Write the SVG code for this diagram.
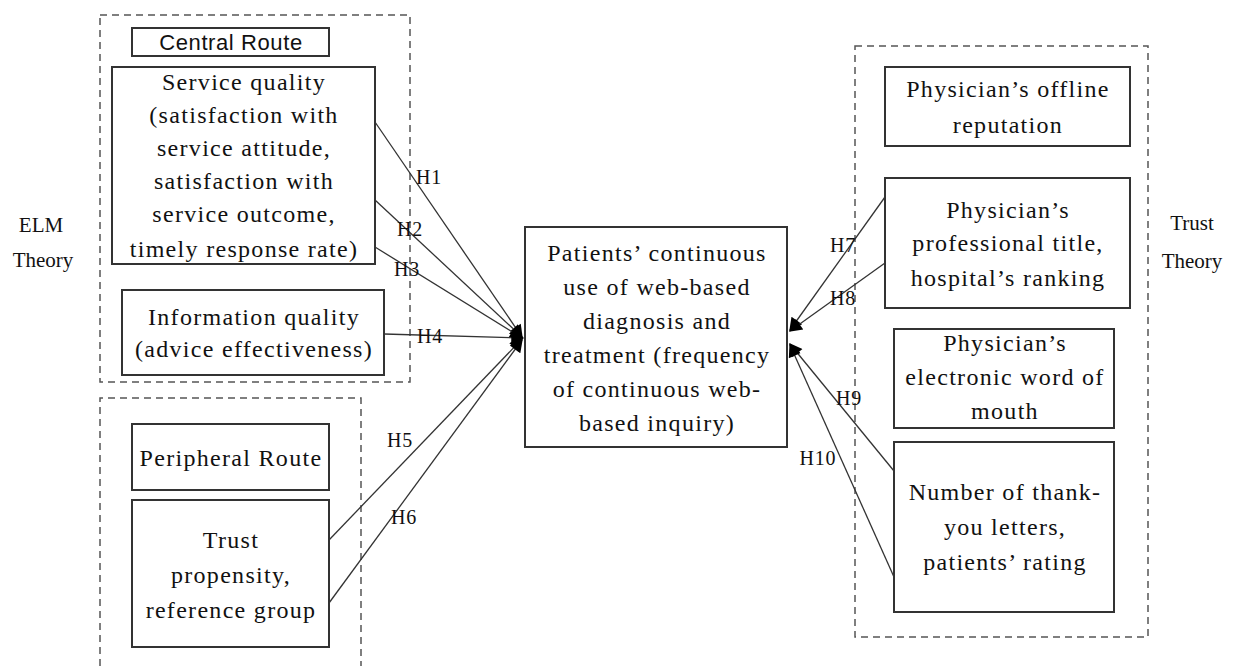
<svg xmlns="http://www.w3.org/2000/svg" width="1236" height="666" viewBox="0 0 1236 666">
<defs>
<style>
.box{fill:#fff;stroke:#333;stroke-width:2}
.dash{fill:none;stroke:#555;stroke-width:1.5;stroke-dasharray:7,5}
.t{font-family:"Liberation Serif","Times New Roman",serif;font-size:24px;letter-spacing:1.3px;fill:#111;text-anchor:middle}
.s{font-family:"Liberation Sans",Arial,sans-serif;font-size:22px;letter-spacing:0.6px;fill:#111;text-anchor:middle}
.h{font-family:"Liberation Serif","Times New Roman",serif;font-size:20px;letter-spacing:0.8px;fill:#111;text-anchor:middle}
.th{font-family:"Liberation Serif","Times New Roman",serif;font-size:21px;fill:#111;text-anchor:middle}
.c{stroke:#333;stroke-width:1.3;fill:none;marker-end:url(#arr)}
</style>
<marker id="arr" viewBox="0 0 10 10" refX="9" refY="5" markerWidth="15" markerHeight="13" markerUnits="userSpaceOnUse" orient="auto">
<path d="M0,0 L10,5 L0,10 z" fill="#000"/>
</marker>
</defs>
<rect width="1236" height="666" fill="#fff"/>
<g id="frames">
<rect class="dash" x="100" y="15" width="310" height="367"/>
<path class="dash" d="M100,666 V398 H361 V666"/>
<rect class="dash" x="855" y="46" width="293" height="591"/>
</g>
<g id="elm-label"><text class="th" x="41" y="232">ELM</text><text class="th" x="43" y="267">Theory</text></g>
<g id="trust-label"><text class="th" x="1192" y="230">Trust</text><text class="th" x="1192" y="268">Theory</text></g>
<g id="connectors">
<line class="c" x1="375" y1="122" x2="522" y2="337"/>
<line class="c" x1="375" y1="200" x2="522" y2="337"/>
<line class="c" x1="375" y1="247" x2="522" y2="338"/>
<line class="c" x1="384" y1="334" x2="523" y2="338"/>
<line class="c" x1="329" y1="540" x2="522" y2="339"/>
<line class="c" x1="329" y1="603" x2="522" y2="340"/>
<line class="c" x1="885" y1="197" x2="790" y2="330"/>
<line class="c" x1="885" y1="263" x2="790" y2="331"/>
<line class="c" x1="894" y1="471" x2="790" y2="344"/>
<line class="c" x1="894" y1="577" x2="790" y2="345"/>
<text class="h" x="429" y="184">H1</text>
<text class="h" x="410" y="236">H2</text>
<text class="h" x="407" y="276">H3</text>
<text class="h" x="430" y="343">H4</text>
<text class="h" x="400" y="447">H5</text>
<text class="h" x="404" y="524">H6</text>
<text class="h" x="843" y="252">H7</text>
<text class="h" x="843" y="305">H8</text>
<text class="h" x="849" y="405">H9</text>
<text class="h" x="818" y="465">H10</text>
</g>
<g id="central-route"><rect class="box" x="132" y="28" width="197" height="28"/><text class="s" x="231" y="50">Central Route</text></g>
<g id="service-quality"><rect class="box" x="112" y="67" width="263" height="197"/>
<text class="t" x="244" y="90">Service quality</text>
<text class="t" x="244" y="123">(satisfaction with</text>
<text class="t" x="244" y="156">service attitude,</text>
<text class="t" x="244" y="189">satisfaction with</text>
<text class="t" x="244" y="222">service outcome,</text>
<text class="t" x="244" y="257">timely response rate)</text></g>
<g id="information-quality"><rect class="box" x="122" y="290" width="262" height="85"/>
<text class="t" x="254" y="325" font-size="22" letter-spacing="0.5">Information quality</text>
<text class="t" x="254" y="357" font-size="22" letter-spacing="0.5">(advice effectiveness)</text></g>
<g id="peripheral-route"><rect class="box" x="132" y="424" width="197" height="66"/><text class="t" x="231" y="466" letter-spacing="0.3">Peripheral Route</text></g>
<g id="trust-propensity"><rect class="box" x="132" y="500" width="197" height="147"/>
<text class="t" x="231" y="548">Trust</text>
<text class="t" x="231" y="583">propensity,</text>
<text class="t" x="231" y="618">reference group</text></g>
<g id="continuous-use"><rect class="box" x="525" y="227" width="262" height="220"/>
<text class="t" x="657" y="261">Patients’ continuous</text>
<text class="t" x="657" y="295">use of web-based</text>
<text class="t" x="657" y="329">diagnosis and</text>
<text class="t" x="657" y="363">treatment (frequency</text>
<text class="t" x="657" y="397">of continuous web-</text>
<text class="t" x="657" y="431">based inquiry)</text></g>
<g id="offline-reputation"><rect class="box" x="885" y="67" width="245" height="79"/>
<text class="t" x="1008" y="97">Physician’s offline</text>
<text class="t" x="1008" y="133">reputation</text></g>
<g id="professional-title"><rect class="box" x="885" y="178" width="245" height="130"/>
<text class="t" x="1008" y="218">Physician’s</text>
<text class="t" x="1008" y="251">professional title,</text>
<text class="t" x="1008" y="286">hospital’s ranking</text></g>
<g id="ewom"><rect class="box" x="894" y="329" width="220" height="99"/>
<text class="t" x="1005" y="351">Physician’s</text>
<text class="t" x="1005" y="385">electronic word of</text>
<text class="t" x="1005" y="419">mouth</text></g>
<g id="thank-you"><rect class="box" x="894" y="442" width="220" height="170"/>
<text class="t" x="1005" y="500">Number of thank-</text>
<text class="t" x="1005" y="535">you letters,</text>
<text class="t" x="1005" y="570">patients’ rating</text></g>
</svg>
